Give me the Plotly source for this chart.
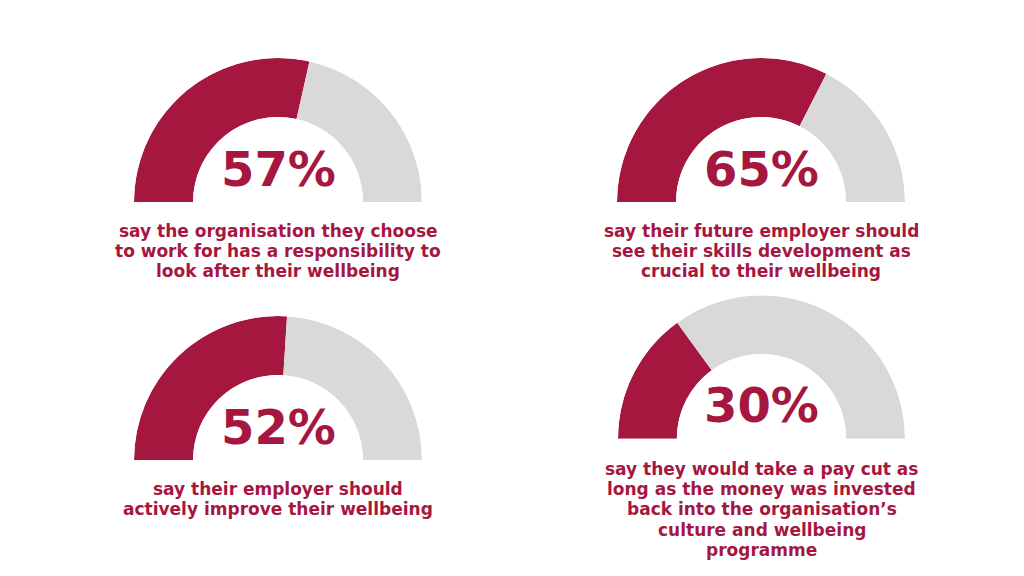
import plotly.graph_objects as go

# Data
percentages = [57, 65, 52, 30]
captions = [
    ["say the organisation they choose", "to work for has a responsibility to", "look after their wellbeing"],
    ["say their future employer should", "see their skills development as", "crucial to their wellbeing"],
    ["say their employer should", "actively improve their wellbeing"],
    ["say they would take a pay cut as", "long as the money was invested", "back into the organisation’s",
     "culture and wellbeing", "programme"],
]

CRIMSON = "#A6173F"
GREY = "#D9D9D9"
OFF = 8  # page body margin
W, H = 1024 - OFF, 576 - OFF

# layout positions (screen pixels): gauge bounding boxes (left, right, top, bottom)
boxes = [(134, 422, 58, 202), (617, 905, 58, 202), (134, 422, 316, 460), (618, 905, 295, 439)]
pct_y = [170, 170, 428, 406]
cap_y = [230, 230, 488, 468]
LINE = 20.2


def px(x):
    return (x - OFF) / W


def py(y):
    return 1 - (y - OFF) / H


fig = go.Figure()
for i, (p, box) in enumerate(zip(percentages, boxes)):
    l, r, t, b = box
    name = "polar" if i == 0 else f"polar{i+1}"
    fill_deg = p * 1.8
    rest_deg = 180 - fill_deg
    fig.add_trace(go.Barpolar(
        r=[1, 1],
        theta=[fill_deg / 2, fill_deg + rest_deg / 2],
        width=[fill_deg, rest_deg],
        marker=dict(color=[CRIMSON, GREY], line=dict(width=0)),
        subplot=name, showlegend=False, hoverinfo="skip",
    ))
    fig.update_layout(**{name: dict(
        domain=dict(x=[px(l), px(r)], y=[py(b), py(t)]),
        sector=[0, 180],
        hole=0.59,
        bgcolor="rgba(0,0,0,0)",
        radialaxis=dict(visible=False, range=[0, 1]),
        angularaxis=dict(visible=False, rotation=180, direction="clockwise",
                         showgrid=False, showline=False, ticks=""),
    )})
    cx = (l + r) / 2
    fig.add_annotation(x=px(cx), y=py(pct_y[i] - 1), xref="paper", yref="paper",
                       text=f"<b>{p}%</b>", showarrow=False,
                       font=dict(family="DejaVu Sans", size=48, color=CRIMSON),
                       xanchor="center", yanchor="middle")
    for k, line in enumerate(captions[i]):
        fig.add_annotation(x=px(cx), y=py(cap_y[i] + k * LINE + 1), xref="paper", yref="paper",
                           text=f"<b>{line}</b>", showarrow=False,
                           font=dict(family="DejaVu Sans", size=17, color=CRIMSON),
                           xanchor="center", yanchor="middle", align="center")

fig.update_layout(width=W, height=H, margin=dict(l=0, r=0, t=0, b=0),
                  paper_bgcolor="white", plot_bgcolor="white")
fig.write_html("out.html")
